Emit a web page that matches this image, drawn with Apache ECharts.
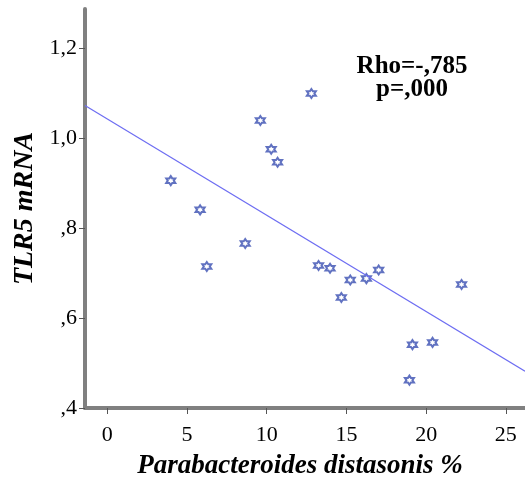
<!DOCTYPE html>
<html>
<head>
<meta charset="utf-8">
<script src="https://cdn.jsdelivr.net/npm/echarts@6/dist/echarts.min.js"></script>
<style>html,body{margin:0;padding:0;background:#fff;}#c{width:525px;height:485px;}</style>
</head>
<body>
<div id="c"></div>
<script>
// Data
var xValues = [3.98, 5.82, 6.24, 8.65, 9.6, 10.28, 10.68, 12.8, 13.25, 13.97, 14.68, 15.24, 16.25, 17.02, 18.95, 19.14, 20.4, 22.22];
var yValues = [0.906, 0.841, 0.715, 0.766, 1.040, 0.976, 0.947, 1.100, 0.717, 0.711, 0.646, 0.685, 0.688, 0.707, 0.462, 0.541, 0.546, 0.675];
var fitX = [-1.4, 26.2];
var fitY = [1.073, 0.482];
var xTicks = [0, 5, 10, 15, 20, 25];
var yTicks = [0.4, 0.6, 0.8, 1.0, 1.2];
var statLines = ['Rho=-,785', 'p=,000'];

var points = xValues.map(function (x, i) { return [x, yValues[i]]; });
var fitLine = fitX.map(function (x, i) { return [x, fitY[i]]; });

var star = 'path://M10,0 L12.89,5 L18.66,5 L15.77,10 L18.66,15 L12.89,15 L10,20 L7.11,15 L1.34,15 L4.23,10 L1.34,5 L7.11,5 Z';
var serif = '"Liberation Serif", "Times New Roman", serif';

var chart = echarts.init(document.getElementById('c'), null, {renderer: 'canvas'});
chart.setOption({
  animation: false,
  backgroundColor: '#fff',
  grid: {left: 85, top: 9, right: 0, bottom: 73, containLabel: false},
  xAxis: {
    type: 'value', min: -1.4, max: 26.2,
    splitLine: {show: false},
    axisLine: {show: true, onZero: false, lineStyle: {color: '#808080', width: 4}},
    axisTick: {show: true, customValues: xTicks, length: 6, lineStyle: {color: '#555', width: 1}},
    axisLabel: {customValues: xTicks, margin: 16, color: '#000', fontFamily: serif, fontSize: 22},
    name: 'Parabacteroides distasonis %', nameLocation: 'middle', nameGap: 45,
    nameTextStyle: {fontFamily: serif, fontSize: 27, fontWeight: 'bold', fontStyle: 'italic', color: '#000', padding: [0, 10, 0, 0]}
  },
  yAxis: {
    type: 'value', min: 0.4, max: 1.288,
    splitLine: {show: false},
    axisLine: {show: true, onZero: false, lineStyle: {color: '#808080', width: 4}},
    axisTick: {show: true, customValues: yTicks, length: 6, lineStyle: {color: '#555', width: 1}},
    axisLabel: {
      customValues: yTicks, margin: 8, color: '#000', fontFamily: serif, fontSize: 22,
      formatter: function (v) { return v.toFixed(1).replace('.', ',').replace(/^0/, ''); }
    },
    name: 'TLR5 mRNA', nameLocation: 'middle', nameGap: 44, nameRotate: 90,
    nameTextStyle: {fontFamily: serif, fontSize: 28, fontWeight: 'bold', fontStyle: 'italic', color: '#000'}
  },
  series: [
    {
      type: 'line', data: fitLine, symbol: 'none', silent: true,
      lineStyle: {color: '#6d6df2', width: 1.2}
    },
    {
      type: 'scatter', data: points, symbol: star, symbolSize: 9,
      itemStyle: {color: '#ffffff', borderColor: '#3a4fb2', borderWidth: 2}
    }
  ],
  graphic: [
    {type: 'text', x: 412, y: 55, style: {text: statLines.join('\n'), align: 'center', verticalAlign: 'top', font: 'bold 25px ' + serif, fill: '#000', lineHeight: 23}}
  ]
});
</script>
</body>
</html>
